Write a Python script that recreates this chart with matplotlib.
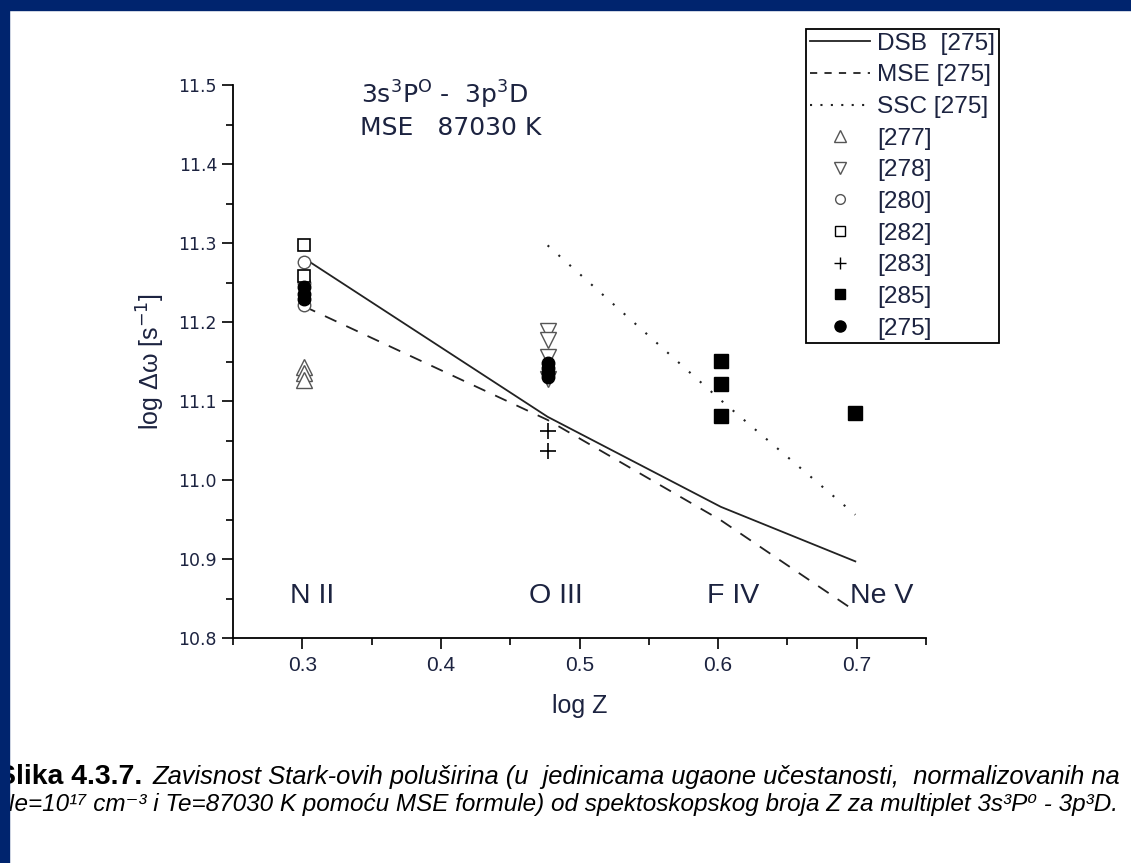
import matplotlib
matplotlib.use('Agg')
import matplotlib.pyplot as plt
from matplotlib.lines import Line2D
from matplotlib.patches import Rectangle
from matplotlib.ticker import MultipleLocator, FormatStrFormatter

# ions and log Z
ions = ['N II', 'O III', 'F IV', 'Ne V']
log_z = [0.301, 0.477, 0.602, 0.699]

# theoretical widths [275]
dsb = [11.281, 11.080, 10.966, 10.897]
mse = [11.220, 11.076, 10.949, 10.834]
ssc_z = [0.477, 0.602, 0.699]
ssc = [11.297, 11.101, 10.956]

# measured widths
z_277 = [0.301, 0.301, 0.301]
w_277 = [11.143, 11.135, 11.127]
z_278 = [0.477, 0.477, 0.477, 0.477]
w_278 = [11.189, 11.177, 11.156, 11.128]
z_280 = [0.301, 0.301, 0.301]
w_280 = [11.276, 11.250, 11.222]
z_282 = [0.301, 0.301]
w_282 = [11.297, 11.258]
z_283 = [0.477, 0.477]
w_283 = [11.062, 11.037]
z_285 = [0.602, 0.602, 0.602, 0.699]
w_285 = [11.151, 11.122, 11.081, 11.085]
z_275 = [0.301, 0.301, 0.301, 0.477, 0.477, 0.477, 0.477]
w_275 = [11.244, 11.236, 11.229, 11.148, 11.142, 11.136, 11.130]

legend_labels = ['DSB  [275]', 'MSE [275]', 'SSC [275]', '[277]', '[278]',
                 '[280]', '[282]', '[283]', '[285]', '[275]']

arial = ['Liberation Sans', 'DejaVu Sans']
ink = '#1c2340'

W, H = 1131, 863
fig = plt.figure(figsize=(W / 100, H / 100), dpi=100)
fig.patch.set_facecolor('white')
ax = fig.add_axes([233 / W, 1 - 638 / H, (926 - 233) / W, (638 - 85) / H])

lc = '#222222'
ax.plot(log_z, dsb, '-', color=lc, lw=1.3)
ax.plot(log_z, mse, '--', color=lc, lw=1.3, dashes=(7, 6))
ax.plot(ssc_z, ssc, ':', color=lc, lw=1.5, dashes=(1, 6))

gray = '#555555'
ax.plot(z_277, w_277, '^', ms=11, mfc='white', mec=gray, mew=1.0, ls='none')
ax.plot(z_278, w_278, 'v', ms=11, mfc='white', mec=gray, mew=1.0, ls='none')
ax.plot(z_280, w_280, 'o', ms=9, mfc='white', mec=gray, mew=1.0, ls='none')
ax.plot(z_282, w_282, 's', ms=9, mfc='white', mec='black', mew=1.2, ls='none')
ax.plot(z_283, w_283, '+', ms=12, color='black', mew=1.2, ls='none')
ax.plot(z_285, w_285, 's', ms=9.5, color='black', ls='none')
ax.plot(z_275, w_275, 'o', ms=9, color='black', ls='none')

# ion names along the bottom
label_x = [0.307, 0.483, 0.611, 0.718]
for x, name in zip(label_x, ions):
    ax.text(x, 10.853, name, ha='center', va='center', fontsize=20.5,
            family=arial, color=ink)

ax.text(0.403, 11.487, r'3s$^3$P$^{\mathrm{O}}$ -  3p$^3$D', ha='center',
        va='center', fontsize=18, color=ink)
ax.text(0.407, 11.446, 'MSE   87030 K', ha='center', va='center',
        fontsize=18, color=ink)

ax.set_xlim(0.25, 0.75)
ax.set_ylim(10.8, 11.5)
ax.xaxis.set_major_locator(MultipleLocator(0.1))
ax.xaxis.set_minor_locator(MultipleLocator(0.05))
ax.yaxis.set_major_locator(MultipleLocator(0.1))
ax.yaxis.set_minor_locator(MultipleLocator(0.05))
ax.xaxis.set_major_formatter(FormatStrFormatter('%.1f'))
ax.yaxis.set_major_formatter(FormatStrFormatter('%.1f'))
for side in ['top', 'right']:
    ax.spines[side].set_visible(False)
for side in ['left', 'bottom']:
    ax.spines[side].set_linewidth(1.3)
ax.tick_params(which='major', direction='out', length=8, width=1.2)
ax.tick_params(which='minor', direction='out', length=5, width=1.2)
ax.tick_params(axis='x', pad=5)
for lab in ax.get_xticklabels():
    lab.set_family(arial)
    lab.set_fontsize(15)
    lab.set_color(ink)
for lab in ax.get_yticklabels():
    lab.set_fontsize(12.5)
    lab.set_color(ink)

ax.set_xlabel('log Z', fontsize=18, family=arial, color=ink, labelpad=14)
ax.set_ylabel('log Δω [s$^{-1}$]', fontsize=18, family=arial,
              color=ink, labelpad=8)

# legend with smaller symbols
handles = [
    Line2D([], [], color=lc, lw=1.3, ls='-'),
    Line2D([], [], color=lc, lw=1.3, ls='--', dashes=(4, 4)),
    Line2D([], [], color=lc, lw=1.5, ls=':', dashes=(1, 4)),
    Line2D([], [], marker='^', ms=8, mfc='white', mec=gray, ls='none'),
    Line2D([], [], marker='v', ms=8, mfc='white', mec=gray, ls='none'),
    Line2D([], [], marker='o', ms=7, mfc='white', mec=gray, ls='none'),
    Line2D([], [], marker='s', ms=7, mfc='white', mec='black', ls='none'),
    Line2D([], [], marker='+', ms=9, color='black', mew=1.0, ls='none'),
    Line2D([], [], marker='s', ms=7.5, color='black', ls='none'),
    Line2D([], [], marker='o', ms=8, color='black', ls='none'),
]
leg = fig.legend(handles, legend_labels, loc='upper left',
                 bbox_to_anchor=(806 / W, 1 - 29 / H), borderaxespad=0,
                 prop={'family': arial, 'size': 17.6}, frameon=True,
                 fancybox=False, edgecolor='black', framealpha=1,
                 handlelength=2.45, handletextpad=0.3, labelspacing=0.39,
                 borderpad=0.15, numpoints=1)
leg.get_frame().set_linewidth(1.3)
for t in leg.get_texts():
    t.set_color(ink)

# caption
cap1a = fig.text(-3 / W, 1 - 777 / H, 'Slika 4.3.7.', ha='left', va='center',
                 fontsize=14, family=arial, weight='bold', color='black')
cap1b = fig.text(152 / W, 1 - 777 / H,
                 'Zavisnost Stark-ovih poluširina (u  jedinicama ugaone '
                 'učestanosti,  normalizovanih na',
                 ha='left', va='center', fontsize=14, family=arial,
                 style='italic', color='black')
cap2 = fig.text(-3 / W, 1 - 804 / H,
                'Ne=10¹⁷ cm⁻³ i Te=87030 K pomoću MSE formule) od '
                'spektoskopskog broja Z za multiplet 3s³P⁰ - 3p³D.',
                ha='left', va='center', fontsize=14, family=arial,
                style='italic', color='black')

# size the caption lines to the slide width
fig.canvas.draw()
r = fig.canvas.get_renderer()
for t, target in [(cap1a, 146), (cap1b, 972), (cap2, 1126)]:
    w = t.get_window_extent(r).width
    t.set_fontsize(t.get_fontsize() * target / w)

# slide frame
fig.add_artist(Rectangle((0, 1 - 10 / H), 1, 10 / H, transform=fig.transFigure,
                         color='#00246e', zorder=10))
fig.add_artist(Rectangle((0, 0), 9 / W, 1, transform=fig.transFigure,
                         color='#00246e', zorder=10))

fig.savefig('out.png', dpi=100)
